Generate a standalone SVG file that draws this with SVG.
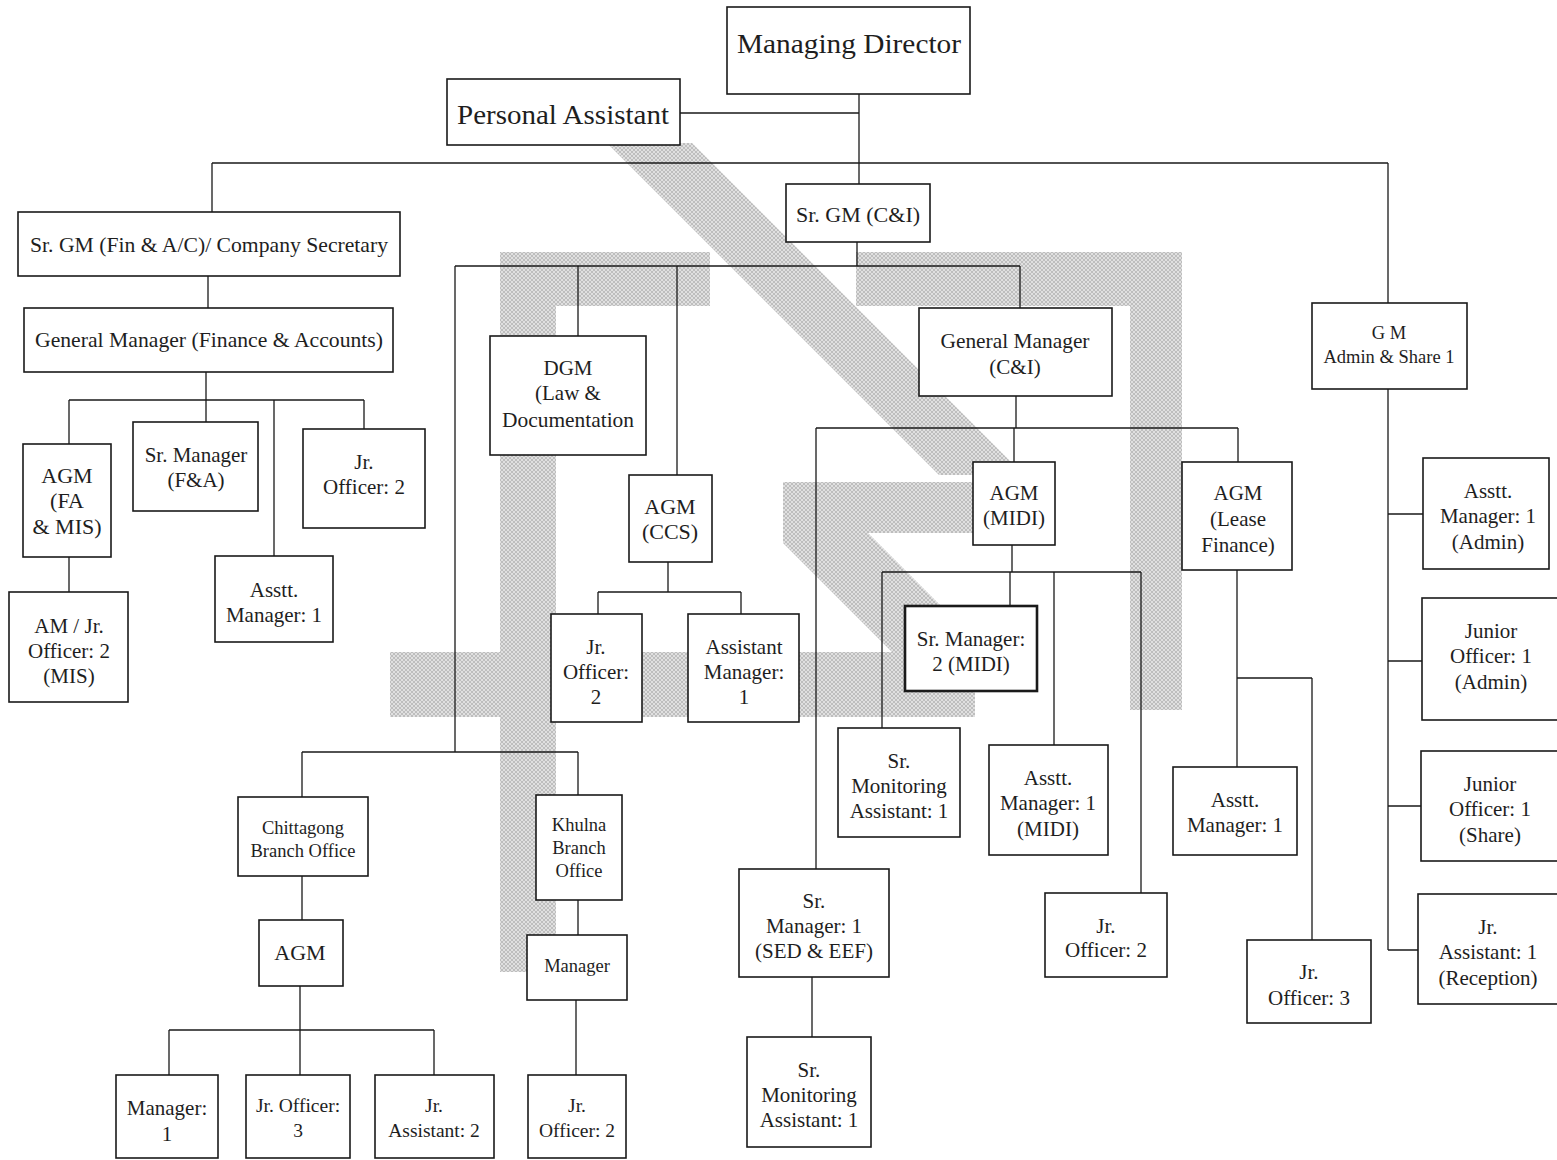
<svg xmlns="http://www.w3.org/2000/svg" width="1557" height="1160" viewBox="0 0 1557 1160">
<defs>
<pattern id="hatch" patternUnits="userSpaceOnUse" width="4" height="4">
<rect width="4" height="4" fill="#e0e0e0"/>
<path d="M0,0 L4,4 M4,0 L0,4" stroke="#a8a8a8" stroke-width="0.6"/>
</pattern>
</defs>
<style>
.box{fill:#fff;stroke:#1a1a1a;stroke-width:1.6}
.thick{stroke-width:2.6}
.c{fill:none;stroke:#1a1a1a;stroke-width:1.3}
.t{font-family:"Liberation Serif","Times New Roman",serif;fill:#1e1e1e;text-anchor:middle}
.big{font-size:28px}
.m{font-size:22px}
.s{font-size:21px}
.xs{font-size:18.5px}
.b{font-size:19.5px}
.wm{fill:url(#hatch)}
</style>
<rect width="1557" height="1160" fill="#fff"/>
<g id="watermark">
<polygon class="wm" points="607,143 692,143 1024,475 939,475"/>
<rect class="wm" x="502" y="252" width="208" height="54"/>
<rect class="wm" x="856" y="252" width="326" height="54"/>
<rect class="wm" x="1130" y="252" width="52" height="458"/>
<rect class="wm" x="500" y="252" width="56" height="720"/>
<rect class="wm" x="390" y="652" width="585" height="65"/>
<polygon class="wm" points="783,482 973,482 973,533 868,533 987,652 892,652 783,543"/>
</g>
<g id="connectors">
<path class="c" d="M680,113 H859 M859,94 V184 M212,163 H1388 M212,163 V212 M1388,163 V303"/>
<path class="c" d="M208,276 V308 M206,372 V400 M69,400 H364 M69,400 V444 M206,400 V422 M274,400 V556 M364,400 V429 M69,557 V592"/>
<path class="c" d="M857,242 V266 M455,266 H1020 M455,266 V752 M302,752 H578 M302,752 V797 M578,752 V795"/>
<path class="c" d="M302,876 V920 M300,986 V1030 M169,1030 H434 M169,1030 V1075 M300,1030 V1075 M434,1030 V1075 M578,900 V935 M576,1000 V1075"/>
<path class="c" d="M578,266 V336 M677,266 V475 M668,562 V592 M598,592 H741 M598,592 V614 M741,592 V614"/>
<path class="c" d="M1020,266 V308 M1016,396 V428 M816,428 H1238 M816,428 V869 M1014,428 V462 M1238,428 V462"/>
<path class="c" d="M1012,545 V572 M882,572 H1141 M882,572 V728 M1010,572 V606 M1054,572 V745 M1141,572 V893"/>
<path class="c" d="M1237,570 V767 M1237,678 H1312 M1312,678 V940 M812,977 V1037"/>
<path class="c" d="M1388,389 V950 M1388,514 H1423 M1388,661 H1422 M1388,806 H1421 M1388,950 H1418"/>
</g>
<g id="n-md"><rect class="box" x="727" y="7" width="243" height="87"/><text class="t big" x="849" y="53" textLength="224" lengthAdjust="spacingAndGlyphs">Managing Director</text></g>
<g id="n-pa"><rect class="box" x="447" y="79" width="233" height="66"/><text class="t big" x="563" y="124" textLength="212" lengthAdjust="spacingAndGlyphs">Personal Assistant</text></g>
<g id="n-srgm-fin"><rect class="box" x="18" y="212" width="382" height="64"/><text class="t m" x="209" y="252" textLength="358" lengthAdjust="spacingAndGlyphs">Sr. GM (Fin &amp; A/C)/ Company Secretary</text></g>
<g id="n-gm-fa"><rect class="box" x="24" y="308" width="369" height="64"/><text class="t m" x="209" y="347" textLength="348" lengthAdjust="spacingAndGlyphs">General Manager (Finance &amp; Accounts)</text></g>
<g id="n-agm-fa"><rect class="box" x="23" y="444" width="88" height="113"/><text class="t m" x="67" y="483">AGM</text><text class="t m" x="67" y="508">(FA</text><text class="t m" x="67" y="534">&amp; MIS)</text></g>
<g id="n-srmgr-fa"><rect class="box" x="133" y="422" width="125" height="89"/><text class="t s" x="196" y="462">Sr. Manager</text><text class="t s" x="196" y="487">(F&amp;A)</text></g>
<g id="n-jro-fa"><rect class="box" x="303" y="429" width="122" height="99"/><text class="t s" x="364" y="469">Jr.</text><text class="t s" x="364" y="494">Officer:  2</text></g>
<g id="n-am-fa"><rect class="box" x="215" y="556" width="118" height="86"/><text class="t s" x="274" y="597">Asstt.</text><text class="t s" x="274" y="622">Manager: 1</text></g>
<g id="n-am-mis"><rect class="box" x="9" y="592" width="119" height="110"/><text class="t s" x="69" y="633">AM / Jr.</text><text class="t s" x="69" y="658">Officer: 2</text><text class="t s" x="69" y="683">(MIS)</text></g>
<g id="n-srgm-ci"><rect class="box" x="786" y="184" width="144" height="58"/><text class="t m" x="858" y="222">Sr. GM (C&amp;I)</text></g>
<g id="n-dgm"><rect class="box" x="490" y="336" width="156" height="119"/><text class="t s" x="568" y="375">DGM</text><text class="t s" x="568" y="400">(Law &amp;</text><text class="t s" x="568" y="427" textLength="132" lengthAdjust="spacingAndGlyphs">Documentation</text></g>
<g id="n-agm-ccs"><rect class="box" x="629" y="475" width="83" height="87"/><text class="t m" x="670" y="514">AGM</text><text class="t m" x="670" y="539">(CCS)</text></g>
<g id="n-jro-ccs"><rect class="box" x="551" y="614" width="91" height="108"/><text class="t s" x="596" y="654">Jr.</text><text class="t s" x="596" y="679">Officer:</text><text class="t s" x="596" y="704">2</text></g>
<g id="n-am-ccs"><rect class="box" x="688" y="614" width="111" height="108"/><text class="t s" x="744" y="654">Assistant</text><text class="t s" x="744" y="679">Manager:</text><text class="t s" x="744" y="704">1</text></g>
<g id="n-gm-ci"><rect class="box" x="919" y="308" width="193" height="88"/><text class="t s" x="1015" y="348" textLength="149" lengthAdjust="spacingAndGlyphs">General Manager</text><text class="t s" x="1015" y="374">(C&amp;I)</text></g>
<g id="n-agm-midi"><rect class="box" x="973" y="462" width="82" height="83"/><text class="t s" x="1014" y="500">AGM</text><text class="t s" x="1014" y="525">(MIDI)</text></g>
<g id="n-agm-lease"><rect class="box" x="1182" y="462" width="110" height="108"/><text class="t s" x="1238" y="500">AGM</text><text class="t s" x="1238" y="526">(Lease</text><text class="t s" x="1238" y="552">Finance)</text></g>
<g id="n-srmgr-midi"><rect class="box thick" x="905" y="606" width="132" height="85"/><text class="t s" x="971" y="646">Sr. Manager:</text><text class="t s" x="971" y="671">2 (MIDI)</text></g>
<g id="n-srmon-1"><rect class="box" x="838" y="728" width="122" height="109"/><text class="t s" x="899" y="768">Sr.</text><text class="t s" x="899" y="793">Monitoring</text><text class="t s" x="899" y="818">Assistant: 1</text></g>
<g id="n-am-midi"><rect class="box" x="989" y="745" width="119" height="110"/><text class="t s" x="1048" y="785">Asstt.</text><text class="t s" x="1048" y="810">Manager: 1</text><text class="t s" x="1048" y="836">(MIDI)</text></g>
<g id="n-srmgr-sed"><rect class="box" x="739" y="869" width="150" height="108"/><text class="t s" x="814" y="908">Sr.</text><text class="t s" x="814" y="933">Manager: 1</text><text class="t s" x="814" y="958">(SED &amp; EEF)</text></g>
<g id="n-srmon-2"><rect class="box" x="747" y="1037" width="124" height="110"/><text class="t s" x="809" y="1077">Sr.</text><text class="t s" x="809" y="1102">Monitoring</text><text class="t s" x="809" y="1127">Assistant: 1</text></g>
<g id="n-jro-midi"><rect class="box" x="1045" y="893" width="122" height="84"/><text class="t s" x="1106" y="933">Jr.</text><text class="t s" x="1106" y="957">Officer:  2</text></g>
<g id="n-am-lease"><rect class="box" x="1173" y="767" width="124" height="88"/><text class="t s" x="1235" y="807">Asstt.</text><text class="t s" x="1235" y="832">Manager: 1</text></g>
<g id="n-jro-lease"><rect class="box" x="1247" y="940" width="124" height="83"/><text class="t s" x="1309" y="979">Jr.</text><text class="t s" x="1309" y="1005">Officer:  3</text></g>
<g id="n-gm-admin"><rect class="box" x="1312" y="303" width="155" height="86"/><text class="t xs" x="1389" y="339">G M</text><text class="t xs" x="1389" y="363">Admin &amp; Share 1</text></g>
<g id="n-am-admin"><rect class="box" x="1423" y="458" width="126" height="111"/><text class="t s" x="1488" y="498">Asstt.</text><text class="t s" x="1488" y="523">Manager: 1</text><text class="t s" x="1488" y="549">(Admin)</text></g>
<g id="n-jo-admin"><rect class="box" x="1422" y="598" width="140" height="122"/><text class="t s" x="1491" y="638">Junior</text><text class="t s" x="1491" y="663">Officer: 1</text><text class="t s" x="1491" y="689">(Admin)</text></g>
<g id="n-jo-share"><rect class="box" x="1421" y="751" width="140" height="110"/><text class="t s" x="1490" y="791">Junior</text><text class="t s" x="1490" y="816">Officer: 1</text><text class="t s" x="1490" y="842">(Share)</text></g>
<g id="n-ja-reception"><rect class="box" x="1418" y="894" width="140" height="110"/><text class="t s" x="1488" y="934">Jr.</text><text class="t s" x="1488" y="959">Assistant: 1</text><text class="t s" x="1488" y="985">(Reception)</text></g>
<g id="n-ctg"><rect class="box" x="238" y="797" width="130" height="79"/><text class="t xs" x="303" y="834">Chittagong</text><text class="t xs" x="303" y="857">Branch Office</text></g>
<g id="n-ctg-agm"><rect class="box" x="259" y="920" width="84" height="66"/><text class="t m" x="300" y="960">AGM</text></g>
<g id="n-khulna"><rect class="box" x="536" y="795" width="86" height="105"/><text class="t xs" x="579" y="831">Khulna</text><text class="t xs" x="579" y="854">Branch</text><text class="t xs" x="579" y="877">Office</text></g>
<g id="n-khulna-mgr"><rect class="box" x="527" y="935" width="100" height="65"/><text class="t xs" x="577" y="972">Manager</text></g>
<g id="n-ctg-mgr"><rect class="box" x="116" y="1075" width="102" height="83"/><text class="t s" x="167" y="1115">Manager:</text><text class="t s" x="167" y="1141">1</text></g>
<g id="n-ctg-jro"><rect class="box" x="246" y="1075" width="104" height="83"/><text class="t b" x="298" y="1112">Jr. Officer:</text><text class="t b" x="298" y="1137">3</text></g>
<g id="n-ctg-ja"><rect class="box" x="375" y="1075" width="119" height="83"/><text class="t b" x="434" y="1112">Jr.</text><text class="t b" x="434" y="1137">Assistant: 2</text></g>
<g id="n-khulna-jro"><rect class="box" x="528" y="1075" width="98" height="83"/><text class="t b" x="577" y="1112">Jr.</text><text class="t b" x="577" y="1137">Officer: 2</text></g>
</svg>
